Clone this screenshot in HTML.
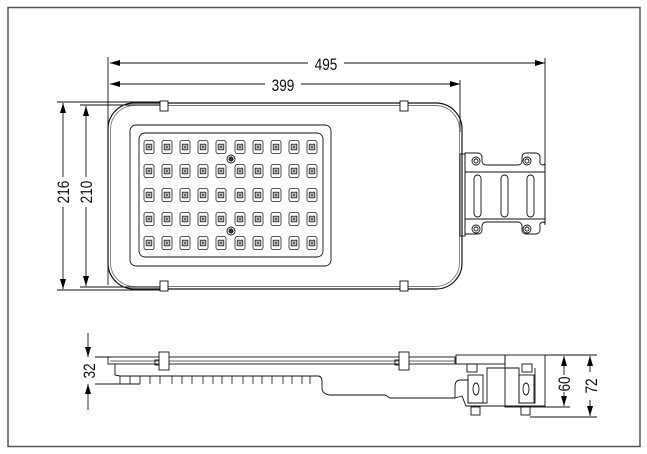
<!DOCTYPE html>
<html><head><style>body{margin:0;background:#fff}svg{display:block}</style></head><body>
<svg width="647" height="454" viewBox="0 0 647 454" xmlns="http://www.w3.org/2000/svg" font-family="Liberation Sans, sans-serif">
<defs>
<marker id="a" viewBox="0 0 10 6" refX="10" refY="3" markerWidth="10" markerHeight="6" orient="auto-start-reverse" markerUnits="userSpaceOnUse"><path d="M0,0L10,3L0,6z" fill="#000"/></marker>
<g id="led"><rect x="-5" y="-6.5" width="10" height="13" rx="2" fill="none" stroke="#222" stroke-width="0.8"/><rect x="-2.8" y="-2.8" width="5.6" height="5.6" fill="#bbb" stroke="#222" stroke-width="0.8"/><circle r="1.1" fill="#555"/></g>
</defs>
<rect x="8" y="7.5" width="632" height="439" fill="none" stroke="#555" stroke-width="1.5"/>
<g fill="none" stroke="#111" stroke-width="0.9">
<line x1="108" y1="57" x2="108" y2="285"/>
<line x1="545" y1="58" x2="545" y2="225"/>
<line x1="460" y1="80" x2="460" y2="132"/>
<line x1="110" y1="63" x2="545" y2="63" marker-start="url(#a)" marker-end="url(#a)"/>
<line x1="110" y1="84" x2="460" y2="84" marker-start="url(#a)" marker-end="url(#a)"/>
<line x1="57" y1="102" x2="160" y2="102"/>
<line x1="80" y1="105" x2="160" y2="105"/>
<line x1="57" y1="290" x2="160" y2="290"/>
<line x1="80" y1="287" x2="160" y2="287"/>
<line x1="63" y1="103" x2="63" y2="289" marker-start="url(#a)" marker-end="url(#a)"/>
<line x1="86" y1="106" x2="86" y2="286" marker-start="url(#a)" marker-end="url(#a)"/>
<rect x="108" y="103" width="354" height="186" rx="26" stroke-width="1.2"/>
<rect x="110.5" y="105.5" width="349" height="181" rx="24" stroke="#777"/>
<rect x="130" y="125" width="201" height="141" rx="6"/>
<rect x="139" y="133" width="184" height="124" rx="6"/>
<rect x="160" y="101" width="8" height="10" fill="#fff"/>
<rect x="160" y="281" width="8" height="10" fill="#fff"/>
<rect x="400" y="101" width="8" height="10" fill="#fff"/>
<rect x="400" y="281" width="8" height="10" fill="#fff"/>
<rect x="460" y="154" width="5" height="82"/>
<path d="M465,153 H478 a4,4 0 0 1 4,4 v4 a4,4 0 0 0 4,4 H518 a4,4 0 0 0 4,-4 v-4 a4,4 0 0 1 4,-4 H536 a4,4 0 0 1 4,4 v4 a3,3 0 0 0 5,3 V223 a3,3 0 0 0 -5,3 v4 a4,4 0 0 1 -4,4 H526 a4,4 0 0 1 -4,-4 v-4 a4,4 0 0 0 -4,-4 H486 a4,4 0 0 0 -4,4 v4 a4,4 0 0 1 -4,4 H465 Z"/>
<line x1="465" y1="172" x2="545" y2="172"/>
<line x1="465" y1="219" x2="545" y2="219"/>
<rect x="474" y="175" width="7" height="42" rx="3.5"/>
<rect x="501" y="175" width="7" height="42" rx="3.5"/>
<rect x="527" y="175" width="7" height="42" rx="3.5"/>
<circle cx="476" cy="161" r="4"/><circle cx="476" cy="161" r="2"/>
<circle cx="527" cy="161" r="4"/><circle cx="527" cy="161" r="2"/>
<circle cx="476" cy="229" r="4"/><circle cx="476" cy="229" r="2"/>
<circle cx="527" cy="229" r="4"/><circle cx="527" cy="229" r="2"/>
<circle cx="231" cy="159" r="4"/><circle cx="231" cy="159" r="2" fill="#333"/>
<circle cx="231" cy="231" r="4"/><circle cx="231" cy="231" r="2" fill="#333"/>
<line x1="95" y1="357" x2="112" y2="357"/>
<line x1="95" y1="384" x2="140" y2="384"/>
<line x1="88" y1="333" x2="88" y2="357" marker-end="url(#a)"/>
<line x1="88" y1="410" x2="88" y2="384" marker-end="url(#a)"/>
<rect x="108" y="357" width="347" height="7"/>
<line x1="110" y1="361" x2="455" y2="361" stroke="#666"/>
<path d="M115,364 V375 L120,376 H318 Q322,376 322,382 V388 Q322,394 330,395 H385 L390,398 H455"/>
<g stroke-width="0.8">
<path d="M120,376 v8 M130,376 v8 M140,376 v8 M150,376 v8 M160,376 v8 M172,376 v8 M182,376 v8 M192,376 v8 M203,376 v8 M213,376 v8 M222,376 v8 M232,376 v8 M243,376 v8 M253,376 v8 M262,376 v8 M272,376 v8 M283,376 v8 M292,376 v8 M302,376 v8 M310,376 v8"/>
</g>
<rect x="159" y="352" width="10" height="18" fill="#fff"/>
<rect x="155" y="360" width="4" height="5"/>
<rect x="399" y="352" width="10" height="18" fill="#fff"/>
<rect x="395" y="360" width="4" height="5"/>
<rect x="456" y="355" width="49" height="9"/>
<rect x="505" y="355" width="40" height="52"/>
<rect x="467" y="364" width="10" height="8"/>
<rect x="522" y="364" width="10" height="8"/>
<path d="M455,398 V387 Q455,380 460,380 H468 V403 H487 V368 H519 V403 H535 V368"/>
<rect x="468" y="375" width="15" height="28"/>
<rect x="519" y="375" width="15" height="28"/>
<ellipse cx="476" cy="389" rx="3" ry="6"/>
<ellipse cx="526" cy="389" rx="3" ry="6"/>
<path d="M455,398 L462,396 L466,406 H545"/>
<rect x="471" y="407" width="9" height="8"/>
<rect x="521" y="407" width="9" height="8"/>
<line x1="545" y1="355" x2="597" y2="355"/>
<line x1="530" y1="417" x2="597" y2="417"/>
<line x1="545" y1="407" x2="570" y2="407"/>
<line x1="564" y1="375" x2="564" y2="356" marker-end="url(#a)"/>
<line x1="564" y1="392" x2="564" y2="406" marker-end="url(#a)"/>
<line x1="590" y1="372" x2="590" y2="356" marker-end="url(#a)"/>
<line x1="590" y1="400" x2="590" y2="416" marker-end="url(#a)"/>
</g>
<g>
<use href="#led" x="149" y="147"/><use href="#led" x="167" y="147"/><use href="#led" x="185" y="147"/><use href="#led" x="203" y="147"/><use href="#led" x="221" y="147"/><use href="#led" x="240" y="147"/><use href="#led" x="258" y="147"/><use href="#led" x="276" y="147"/><use href="#led" x="294" y="147"/><use href="#led" x="312" y="147"/>
<use href="#led" x="149" y="171"/><use href="#led" x="167" y="171"/><use href="#led" x="185" y="171"/><use href="#led" x="203" y="171"/><use href="#led" x="221" y="171"/><use href="#led" x="240" y="171"/><use href="#led" x="258" y="171"/><use href="#led" x="276" y="171"/><use href="#led" x="294" y="171"/><use href="#led" x="312" y="171"/>
<use href="#led" x="149" y="195"/><use href="#led" x="167" y="195"/><use href="#led" x="185" y="195"/><use href="#led" x="203" y="195"/><use href="#led" x="221" y="195"/><use href="#led" x="240" y="195"/><use href="#led" x="258" y="195"/><use href="#led" x="276" y="195"/><use href="#led" x="294" y="195"/><use href="#led" x="312" y="195"/>
<use href="#led" x="149" y="219"/><use href="#led" x="167" y="219"/><use href="#led" x="185" y="219"/><use href="#led" x="203" y="219"/><use href="#led" x="221" y="219"/><use href="#led" x="240" y="219"/><use href="#led" x="258" y="219"/><use href="#led" x="276" y="219"/><use href="#led" x="294" y="219"/><use href="#led" x="312" y="219"/>
<use href="#led" x="149" y="243"/><use href="#led" x="167" y="243"/><use href="#led" x="185" y="243"/><use href="#led" x="203" y="243"/><use href="#led" x="221" y="243"/><use href="#led" x="240" y="243"/><use href="#led" x="258" y="243"/><use href="#led" x="276" y="243"/><use href="#led" x="294" y="243"/><use href="#led" x="312" y="243"/>
</g>
<g font-size="17" fill="#111" text-anchor="middle">
<rect x="308" y="54" width="36" height="16" fill="#fff"/>
<text x="326" y="70" transform="translate(326 0) scale(0.8 1) translate(-326 0)">495</text>
<rect x="265" y="75" width="36" height="16" fill="#fff"/>
<text x="283" y="91" transform="translate(283 0) scale(0.8 1) translate(-283 0)">399</text>
<rect x="55" y="177" width="16" height="30" fill="#fff"/>
<text transform="translate(69 192) rotate(-90) scale(0.8 1)">216</text>
<rect x="78" y="177" width="16" height="30" fill="#fff"/>
<text transform="translate(92 192) rotate(-90) scale(0.8 1)">210</text>
<text transform="translate(95 371) rotate(-90) scale(0.8 1)">32</text>
<text transform="translate(570 384) rotate(-90) scale(0.8 1)">60</text>
<text transform="translate(597 386) rotate(-90) scale(0.8 1)">72</text>
</g>
</svg>
</body></html>
